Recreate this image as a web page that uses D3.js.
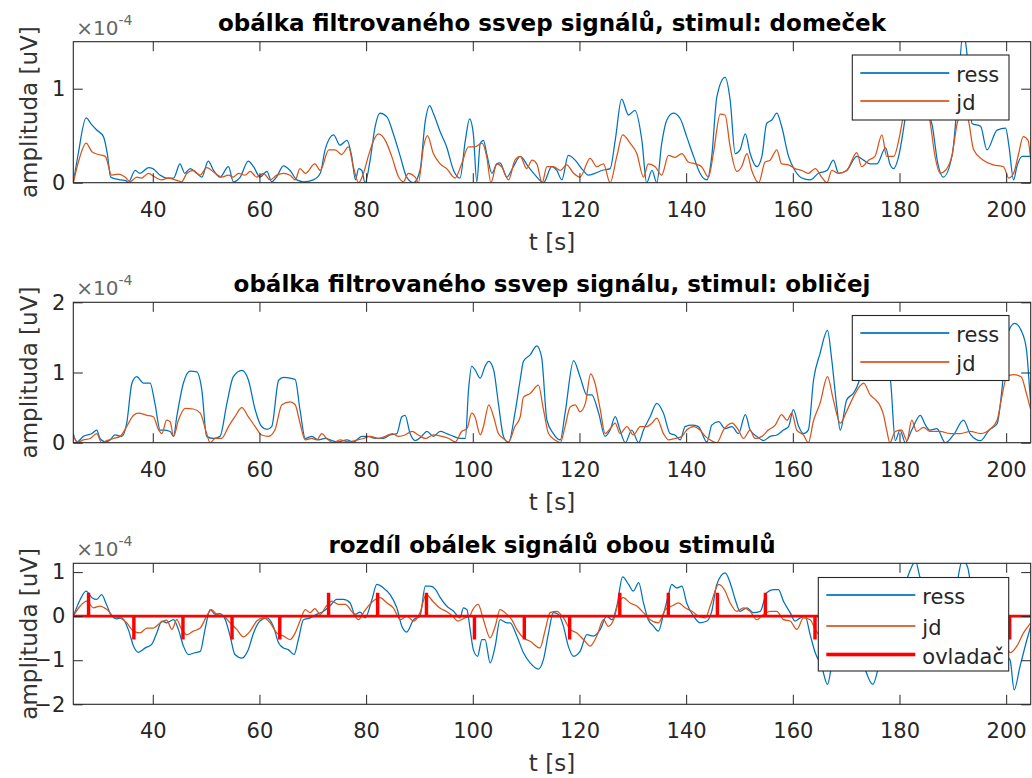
<!DOCTYPE html>
<html>
<head>
<meta charset="utf-8">
<script src="https://cdn.jsdelivr.net/npm/d3@7"></script>
<style>
  html, body { margin: 0; padding: 0; background: #fff; }
  svg { display: block; }
  text { font-family: "DejaVu Sans", sans-serif; fill: #262626; }
</style>
</head>
<body>
<svg id="chart" width="1032" height="778"></svg>
<script>
// ---- data: envelope of the filtered SSVEP signal, values in 1e-4 uV ----
const xTicks = [40, 60, 80, 100, 120, 140, 160, 180, 200];
const xDomain = [25.1, 204.6];

// stimulus "domeček"
const domRess = [[25.1,0],[26,0.3],[27.5,0.69],[28.5,0.62],[29.5,0.56],[30.75,0.49],[31.5,0.3],[32.1,0.06],[33,0.04],[34,0.03],[35,0.02],[35.4,0],[36.7,0.13],[37.6,0.1],[39.2,0.16],[40,0.15],[41.4,0.08],[42.6,0.05],[43.9,0.05],[45.1,0.2],[46,0.1],[47,0.15],[48.25,0.1],[49.2,0.06],[50.4,0.23],[51.4,0.13],[52.6,0.06],[54.2,0.17],[55.1,0.01],[56.4,0.06],[57.9,0.23],[58.9,0.17],[60.1,0.06],[61.4,0.12],[62.3,0.01],[63.2,0.06],[64.5,0.18],[65.75,0.13],[67,0.03],[68.25,0.01],[70.1,0.03],[71.4,0.1],[72.3,0.35],[73.9,0.51],[75.1,0.4],[76.4,0.45],[77.3,0.28],[78,0.03],[78.6,0.15],[79.2,0.13],[79.8,0],[80.75,0.24],[81.7,0.6],[82.6,0.74],[83.9,0.7],[85.1,0.52],[86.4,0.28],[87.6,0.06],[88.9,0],[90.1,0.13],[91.1,0.66],[91.9,0.82],[92.6,0.74],[93.9,0.54],[95.1,0.38],[96.4,0.13],[97.6,0.05],[98.6,0.45],[99.4,0.68],[100.1,0.52],[100.75,0.01],[101.4,0.42],[102,0.45],[102.6,0.31],[103.6,0.1],[104.5,0.2],[105.1,0.21],[106.4,0.06],[107.6,0.17],[108.9,0.28],[110.4,0.17],[111.7,0.08],[113.25,0],[114.8,0.17],[115.75,0.13],[116.7,0.03],[117.9,0.29],[119.2,0.24],[120.4,0.15],[121.7,0.08],[122.9,0.1],[124.2,0.13],[125.75,0.15],[126.7,0.45],[127.9,0.89],[129.2,0.72],[130.4,0.77],[131.7,0.45],[132.6,0],[133.6,0.13],[134.5,0],[135.4,0.41],[136.4,0.67],[137.6,0.74],[138.9,0.68],[140.1,0.49],[141.4,0.28],[142.6,0.1],[143.9,0.03],[144.8,0.28],[145.75,0.91],[147.3,1.12],[148.25,0.88],[149.2,0.31],[150.1,0.35],[151.1,0.52],[152,0.31],[153.25,0.17],[154.2,0.28],[155.1,0.63],[156.1,0.67],[157,0.74],[157.9,0.6],[159.2,0.28],[160.4,0.13],[161.7,0.05],[163.25,0.03],[164.8,0.1],[166.4,0.13],[167.6,0.24],[168.6,0.1],[170.1,0.13],[172,0.28],[173.25,0.24],[174.5,0.2],[175.75,0.2],[177.4,0.37],[178.2,0.2],[178.9,0.15],[179.8,0.27],[181.1,0.7],[182.2,1.15],[183,1.28],[184.2,1.1],[185.2,0.75],[186.1,0.62],[187.2,0.2],[188.2,0.06],[189.9,0.3],[190.9,0.9],[191.9,1.6],[192.6,1.4],[193.6,0.63],[195.2,0.6],[196.4,0.35],[198.3,0.56],[199.9,0.58],[200.5,0.4],[201.4,0.03],[202,0.17],[203,0.28],[204.6,0.28]];
const domJd = [[25.1,0],[26.2,0.25],[27.5,0.42],[28.6,0.33],[29.8,0.3],[31.1,0.28],[32.3,0.08],[33.6,0.09],[34.8,0.06],[35.75,0.01],[37,0.06],[37.9,0.05],[39.2,0.1],[40.4,0.06],[41.7,0.03],[42.9,0.05],[44.2,0.03],[45.4,0.01],[46.4,0.1],[47.6,0.13],[48.9,0.08],[50.1,0.16],[51.7,0.1],[52.9,0.06],[54.2,0.08],[55.1,0.06],[56.1,0.1],[57.3,0.08],[58.25,0.12],[59.5,0.06],[60.75,0.1],[62,0.03],[63.25,0.08],[64.5,0.1],[65.75,0.08],[66.7,0.03],[67.6,0.15],[68.6,0.1],[70.4,0.2],[71.4,0.13],[73,0.35],[74.2,0.35],[75.4,0.3],[76.7,0.38],[77.6,0.17],[78.6,0],[79.5,0.1],[80.4,0.28],[81.4,0.45],[82.3,0.52],[83.6,0.45],[84.8,0.28],[86.1,0.06],[87,0.01],[87.9,0.1],[89.2,0.06],[89.8,0],[90.75,0.38],[91.5,0.5],[92.6,0.31],[93.9,0.2],[95.1,0.15],[96.7,0.05],[97.9,0.2],[99.2,0.38],[100.4,0.38],[101.7,0.42],[102.6,0.28],[103.4,0],[104.5,0.2],[105.4,0.17],[106.7,0.03],[107.9,0.24],[108.9,0.28],[110.1,0.15],[111.1,0.24],[112,0.2],[113,0],[113.9,0.17],[115.1,0.17],[116.4,0.13],[117.6,0.19],[118.9,0.1],[120.1,0.06],[122,0.26],[123.25,0.17],[124.5,0.2],[125.75,0],[127,0.28],[128.1,0.51],[129.5,0.42],[130.75,0.31],[132,0.06],[132.9,0.2],[134.2,0.17],[135.4,0.08],[136.7,0.29],[137.9,0.27],[139.2,0.31],[140.4,0.22],[141.7,0.2],[142.9,0.17],[144.2,0.06],[145.1,0.31],[146.4,0.73],[147.3,0.72],[148.25,0.38],[149.5,0.12],[150.4,0.17],[151.4,0.31],[152.3,0.13],[153.6,0],[154.8,0.22],[155.75,0.24],[157,0.35],[157.9,0.2],[159.2,0.19],[160.4,0.15],[161.7,0.13],[162.9,0.1],[164.2,0.15],[165.4,0.06],[166.4,0],[167.3,0.13],[168.6,0.1],[170.1,0.13],[172,0.32],[172.9,0.17],[174.2,0.24],[175.4,0.28],[176.7,0.51],[177.6,0.28],[178.9,0.28],[180.1,0.52],[180.6,0.67],[181.6,0.85],[183,0.95],[184.6,0.85],[185.7,0.66],[186.6,0.3],[187.6,0.1],[188.6,0.13],[189.8,0.28],[191,0.67],[192.3,0.75],[192.9,0.67],[193.9,0.35],[195.7,0.24],[197.6,0.19],[199.5,0.17],[200.5,0.05],[201.4,0.1],[202.3,0.3],[203.2,0.49],[204.1,0.45],[204.6,0.24]];

// stimulus "obličej"
const oblRess = [[25.1,0.13],[25.75,0.01],[27,0.09],[28.6,0.13],[29.5,0.18],[30.1,0.06],[31.1,0.01],[32,0.04],[32.9,0.11],[34.2,0.09],[35.1,0.27],[36.1,0.85],[37,0.94],[38.25,0.85],[39.5,0.85],[40.4,0.56],[41.4,0.18],[42,0.18],[43.25,0.16],[43.9,0.09],[44.5,0.37],[45.75,0.85],[47,1.02],[48.25,1.01],[49.2,0.75],[50.1,0.09],[51.4,0.06],[52.6,0.09],[53.9,0.56],[55.1,0.94],[56.7,1.03],[57.9,0.9],[59.2,0.47],[60.4,0.23],[61.4,0.19],[62.3,0.23],[63.6,0.89],[64.5,0.93],[65.75,0.92],[66.7,0.9],[67.6,0.47],[68.6,0.06],[69.8,0.09],[71.1,0.04],[72.3,0.06],[73.6,0.03],[74.8,0.01],[76.4,0.04],[77.6,0.01],[79.2,0.09],[80.4,0.09],[81.7,0.06],[83.25,0.06],[84.5,0.11],[85.75,0.13],[86.7,0.37],[87.3,0.39],[88.25,0.13],[89.2,0.03],[90.4,0.09],[91.4,0.16],[92.6,0.09],[93.9,0.16],[95.1,0.13],[96.4,0.09],[97.6,0.06],[98.6,0.06],[99.2,0.75],[99.8,1.09],[100.4,1.04],[101.4,0.92],[102.3,1.09],[103,1.16],[103.9,1.04],[104.8,0.56],[105.75,0.09],[106.7,0],[107.9,0.42],[108.9,0.9],[109.5,1.16],[110.75,1.25],[112,1.38],[112.9,1.22],[113.9,0.32],[115.1,0.13],[116.4,0.04],[117.3,0.42],[118.9,1.17],[120.1,0.94],[121.4,0.68],[122.3,0.68],[123.6,0.42],[124.8,0.09],[125.75,0.18],[126.7,0.37],[127.6,0.18],[128.6,0],[129.8,0.18],[131.1,0],[132,0.18],[133.25,0.37],[134.5,0.56],[135.75,0.42],[137,0.13],[137.9,0.11],[138.9,0.04],[139.8,0.23],[141.1,0.25],[142.3,0.23],[143.9,0.01],[144.8,0.25],[146.1,0.3],[147.3,0.2],[148.6,0.23],[149.8,0.13],[151.1,0.4],[152,0.18],[153.25,0.09],[154.5,0.03],[155.75,0.09],[157,0.11],[158.25,0.18],[159.2,0.23],[160.1,0.47],[161.1,0.23],[162,0.13],[162.9,0.18],[163.9,0.9],[165.1,1.27],[166.5,1.6],[167.3,1.18],[168.25,0.51],[168.9,0.18],[170.1,0.61],[171.4,0.71],[172.3,0.85],[173.5,1.3],[174.8,1.65],[175.7,1.5],[176.7,1.25],[177.6,1.05],[178.3,0.89],[179.2,0.03],[180.1,0.18],[181.1,0],[182.3,0.18],[183.9,0.39],[184.8,0.26],[185.7,0.18],[187,0.2],[188.6,0],[190.2,0.12],[192,0.32],[193.3,0.12],[195.2,0.03],[196.8,0.18],[198.3,0.27],[199.2,0.75],[200.1,1.51],[201.6,1.7],[202.8,1.6],[203.8,1.33],[204.4,0.76],[204.6,0.55]];
const oblJd = [[25.1,0.09],[26,0.01],[27,0.04],[28.25,0.06],[29.5,0.13],[30.4,0],[31.4,0.03],[32.6,0.06],[33.9,0.09],[35.1,0.23],[36.4,0.39],[37.3,0.42],[38.9,0.39],[40.1,0.37],[41.1,0.18],[41.7,0.13],[42.6,0.32],[43.25,0.3],[43.9,0.09],[44.8,0.32],[46.1,0.49],[47.6,0.48],[48.9,0.42],[50.1,0.13],[50.75,0],[51.7,0.06],[52.9,0.06],[54.2,0.23],[55.4,0.37],[56.7,0.5],[57.9,0.37],[59.2,0.23],[60.4,0.11],[61.7,0.09],[62.9,0.18],[64.2,0.54],[65.75,0.58],[66.7,0.54],[67.6,0.28],[68.6,0.04],[69.8,0.06],[70.75,0.04],[71.7,0.13],[72.6,0.06],[73.9,0],[75.1,0.04],[76.7,0.01],[77.9,0.03],[79.5,0.06],[80.75,0.09],[82.3,0.06],[83.6,0.09],[84.9,0.13],[86.1,0.09],[87.3,0.11],[88.6,0.16],[89.8,0.11],[91.1,0.06],[92.6,0.11],[94.2,0.09],[95.5,0.06],[96.7,0.01],[97.9,0.16],[98.9,0.2],[99.8,0.42],[100.4,0.37],[101.4,0.11],[102,0.23],[103,0.54],[103.9,0.37],[104.8,0.13],[105.75,0.06],[106.7,0.01],[107.9,0.23],[108.9,0.37],[109.5,0.65],[110.75,0.7],[112.3,0.82],[113.25,0.47],[114.2,0.13],[115.4,0.04],[116.4,0],[117.3,0.23],[118.25,0.51],[119.2,0.54],[120.1,0.44],[121.1,0.56],[122.1,0.98],[122.9,0.85],[123.9,0.47],[124.8,0.13],[125.75,0.2],[126.7,0.28],[127.6,0.13],[128.9,0.23],[130.1,0.11],[131.4,0.23],[132.6,0.23],[133.6,0.28],[134.5,0.35],[135.75,0.13],[136.7,0.04],[137.9,0.06],[139.2,0.09],[140.1,0.18],[141.4,0.23],[142.6,0.18],[143.6,0.09],[144.5,0.04],[145.75,0],[147,0.18],[148.6,0.28],[149.8,0.18],[150.75,0.06],[152,0.18],[152.9,0.06],[154.2,0.09],[155.4,0.18],[156.7,0.25],[157.9,0.4],[158.9,0.32],[159.8,0.42],[160.75,0.18],[162,0.11],[162.9,0],[163.9,0.32],[165.1,0.56],[166.5,0.94],[167.6,0.61],[168.9,0.28],[170.1,0.45],[171.4,0.66],[172.5,0.8],[173.3,0.85],[174.5,0.68],[175.4,0.62],[176.4,0.52],[177,0.4],[177.6,0.18],[178.2,0],[179.2,0.16],[180.4,0.18],[181.4,0.03],[182.3,0.32],[183.2,0.16],[184.5,0.22],[185.7,0.16],[187.6,0.16],[189.5,0.13],[191.4,0.13],[193.3,0.16],[195.2,0.13],[197.1,0.2],[198.3,0.32],[199.2,0.66],[200.1,0.94],[201.4,0.97],[202.8,0.94],[203.8,0.7],[204.6,0.47]];

// difference of the envelopes (domeček − obličej)
const diffRess = [[25.1,0],[26.4,0.38],[27.5,0.57],[28.6,0.42],[29.5,0.38],[30.4,0.49],[31.3,0.27],[32.3,0],[33.25,-0.06],[34.2,-0.04],[35.4,-0.3],[36.4,-0.68],[37.3,-0.82],[38.6,-0.72],[39.8,-0.64],[40.75,-0.38],[41.7,-0.11],[42.6,-0.15],[43.9,-0.08],[44.8,-0.3],[45.75,-0.68],[46.7,-0.87],[47.9,-0.83],[48.9,-0.8],[49.8,-0.3],[50.75,0.15],[51.7,0.04],[52.6,0.06],[53.6,-0.08],[54.5,-0.45],[55.4,-0.87],[56.7,-0.95],[57.9,-0.76],[58.9,-0.38],[60.1,-0.11],[61.4,-0.04],[62.6,-0.23],[63.6,-0.61],[64.5,-0.72],[65.4,-0.76],[66.5,-0.87],[67.3,-0.53],[68.25,-0.08],[69.5,-0.04],[70.75,0.04],[72,0.11],[73.25,0.24],[74.5,0.38],[75.75,0.38],[77,0.3],[77.9,0.04],[78.9,0.09],[79.8,-0.04],[81.1,0.38],[82,0.72],[83.25,0.64],[84.5,0.49],[85.75,0.19],[86.7,-0.23],[87.6,-0.36],[88.9,-0.08],[90.1,0],[91.1,0.68],[92,0.68],[93,0.61],[93.9,0.42],[95.1,0.23],[96.4,0.11],[97.6,-0.04],[98.25,0.19],[98.9,0.15],[99.5,-0.3],[100.1,-0.76],[100.9,-0.91],[101.7,-0.53],[102.3,-0.53],[103.25,-1.06],[104.2,-0.68],[105.1,-0.08],[106.4,-0.15],[107,-0.15],[108.25,-0.45],[109.5,-0.83],[110.75,-1.06],[112.3,-1.2],[113.25,-0.98],[114.2,-0.38],[115.1,0.08],[116.1,0.04],[117,-0.23],[117.9,-0.68],[118.9,-0.91],[120.1,-0.8],[121.4,-0.42],[122.6,-0.45],[123.9,-0.3],[125.1,0],[126.1,-0.08],[127,0.23],[128.1,0.89],[129.2,0.72],[130.1,0.57],[131.1,0.76],[132,0.3],[132.9,-0.08],[133.9,-0.23],[134.8,-0.34],[135.75,0.04],[136.7,0.49],[137.3,0.72],[138.25,0.64],[139.2,0.68],[140.1,0.3],[141.4,0],[142.6,-0.15],[143.9,-0.11],[144.8,0.11],[145.75,0.72],[147.3,0.98],[148.25,0.76],[149.2,0.38],[150.1,0.11],[151.4,0.19],[152.6,0.08],[153.9,0.11],[155.1,0.53],[156.4,0.6],[157.3,0.6],[158.25,0.34],[159.5,0.08],[160.4,-0.11],[161.4,-0.04],[162.3,0],[163.25,-0.42],[164.2,-0.83],[165.4,-1.14],[166.5,-1.55],[167.3,-1.1],[168.4,-0.45],[169.5,-0.3],[170.5,-0.5],[171.8,-0.6],[173.25,-1.1],[175,-1.55],[176.4,-1.0],[177.5,-0.7],[178.5,-0.3],[179.5,0.15],[181,0.7],[182.2,1.1],[183,1.25],[183.8,0.9],[185,0.5],[186.4,0.4],[188.25,0.05],[189.5,0.2],[190.7,0.7],[191.8,1.28],[192.8,1.1],[193.8,0.5],[195,0.55],[196.5,0.2],[198,0.3],[199.3,-0.2],[200.1,-0.9],[200.75,-1.0],[201.5,-1.67],[202.6,-1.14],[203.9,-0.53],[204.6,-0.23]];
const diffJd = [[25.1,0],[26.4,0.23],[27.6,0.34],[28.9,0.19],[30.1,0.23],[31.4,0.15],[32.6,0],[33.9,-0.04],[35.1,-0.15],[36.4,-0.34],[37.6,-0.38],[38.9,-0.27],[40.1,-0.27],[41.4,-0.15],[42.6,-0.09],[43.6,-0.3],[44.5,-0.08],[45.4,-0.3],[46.4,-0.42],[47.6,-0.34],[48.9,-0.27],[50.1,0],[51,0.15],[52,0.04],[53.25,0],[54.5,-0.15],[55.75,-0.3],[57,-0.47],[58.25,-0.34],[59.5,-0.11],[60.75,-0.04],[62,-0.15],[63.25,-0.38],[64.5,-0.45],[65.75,-0.53],[66.7,-0.38],[67.6,-0.11],[68.6,0.15],[69.5,0.08],[70.4,0.17],[71.4,0.04],[72.3,0.19],[73.6,0.34],[74.8,0.27],[76.1,0.27],[77.3,0.11],[78.6,-0.08],[79.5,0.08],[80.4,0.23],[81.7,0.38],[82.6,0.42],[83.9,0.3],[85.1,0.19],[86.4,-0.08],[87.6,0],[88.9,-0.11],[90.1,0.08],[91.25,0.49],[92.5,0.34],[93.75,0.19],[95,0.11],[96.25,0],[97.2,-0.11],[98.5,-0.04],[99.4,0],[100,0.15],[101,0.27],[102,-0.08],[103.25,-0.49],[104.2,-0.23],[105.1,0.15],[106.4,0.04],[107.3,-0.08],[108.25,-0.3],[109.5,-0.49],[110.75,-0.57],[112.6,-0.72],[113.6,-0.3],[114.5,0.08],[115.75,0.11],[117,-0.04],[118.25,-0.3],[119.5,-0.38],[120.75,-0.53],[122,-0.68],[123.25,-0.45],[124.5,-0.08],[125.4,-0.23],[126.4,-0.08],[127.3,0.3],[128.25,0.42],[129.5,0.3],[130.75,0.23],[132,0.08],[133.25,-0.08],[134.8,-0.15],[136.1,0.15],[137.3,0.23],[138.6,0.3],[139.8,0.19],[141.1,0.11],[142.3,0],[143.6,-0.04],[144.5,0.23],[146.1,0.72],[147.3,0.57],[148.25,0.3],[149.5,0.11],[150.75,0.19],[152,0.11],[153.25,-0.08],[154.5,0.04],[155.75,0.11],[157,0.11],[158.25,-0.08],[159.5,-0.11],[160.75,-0.3],[162,-0.04],[163.25,-0.08],[164.2,-0.3],[165.5,-0.55],[166.5,-0.85],[168,-0.2],[170,-0.3],[172,-0.5],[173.25,-0.5],[175,-0.35],[176.7,0],[178,0.25],[180,0.35],[182,0.5],[184,0.65],[186,0.4],[188,0],[190,0.15],[192.5,0.6],[194,0.2],[196,0.1],[198,-0.1],[199.8,-0.6],[200.75,-0.83],[202,-0.68],[203.25,-0.38],[204.6,-0.15]];

// controller (ovladač) events: time and signed marker level
const ovladacT = [27.9, 36.4, 45.6, 54.8, 63.75, 72.9, 82.1, 91.25, 100.25, 109.6, 118.1, 127.5, 136.6, 145.8, 154.8, 164.1, 173.2, 182.3, 191.4, 200.6];
const ovladacV = [0.5, -0.5, -0.5, -0.5, -0.5, 0.5, 0.5, 0.5, -0.5, -0.5, -0.5, 0.5, 0.5, 0.5, 0.5, -0.5, -0.5, 0.5, 0.5, -0.5];

const titles = [
  "obálka filtrovaného ssvep signálů, stimul: domeček",
  "obálka filtrovaného ssvep signálu, stimul: obličej",
  "rozdíl obálek signálů obou stimulů"
];
const yDomains = [[0, 1.5], [0, 2], [-2, 1.2]];
const yTicks = [[0, 1], [0, 1, 2], [-2, -1, 0, 1]];
const seriesNames = ["ress", "jd", "ovladač"];

// ---- layout ----
const COL_RESS = "#0072BD", COL_JD = "#D95319", COL_OVL = "#FF0000", INK = "#262626";
const left = 73.3, right = 1030.7;
const panels = [
  { top: 41.7, bottom: 182.7, lines: [domRess, domJd], legend: { x: 852.3, y: 55, w: 156.7, rows: [73, 101] } },
  { top: 302.3, bottom: 442.7, lines: [oblRess, oblJd], legend: { x: 852.3, y: 315.5, w: 156.7, rows: [333, 362] } },
  { top: 563.3, bottom: 704.3, lines: [diffRess, diffJd], legend: { x: 818.3, y: 577.5, w: 190.4, rows: [595, 626, 654.5] } }
];
const TICK = 9.5;

const svg = d3.select("#chart");
const x = d3.scaleLinear().domain(xDomain).range([left, right]);

// controller trace built from the event list
const ovlPoints = [[xDomain[0], 0]];
ovladacT.forEach((t, i) => { ovlPoints.push([t, 0], [t, ovladacV[i]], [t + 0.12, ovladacV[i]], [t + 0.12, 0]); });
ovlPoints.push([xDomain[1], 0]);

panels.forEach((p, i) => {
  const y = d3.scaleLinear().domain(yDomains[i]).range([p.bottom, p.top]);
  const g = svg.append("g");

  const clipId = "clip" + i;
  svg.append("clipPath").attr("id", clipId)
    .append("rect").attr("x", left).attr("y", p.top).attr("width", right - left).attr("height", p.bottom - p.top);

  const smooth = d3.line().curve(d3.curveMonotoneX).x(d => x(d[0])).y(d => y(d[1]));
  const sharp = d3.line().x(d => x(d[0])).y(d => y(d[1]));
  const plot = g.append("g").attr("clip-path", `url(#${clipId})`);
  plot.append("path").datum(p.lines[0]).attr("d", smooth)
    .attr("fill", "none").attr("stroke", COL_RESS).attr("stroke-width", 1.25).attr("stroke-linejoin", "round");
  plot.append("path").datum(p.lines[1]).attr("d", smooth)
    .attr("fill", "none").attr("stroke", COL_JD).attr("stroke-width", 1.25).attr("stroke-linejoin", "round");
  if (i === 2) {
    plot.append("path").datum(ovlPoints).attr("d", sharp)
      .attr("fill", "none").attr("stroke", COL_OVL).attr("stroke-width", 2.8).attr("stroke-linejoin", "miter");
  }

  // axes with inward ticks on all four sides
  const axB = g.append("g").attr("transform", `translate(0,${p.bottom})`)
    .call(d3.axisBottom(x).tickValues(xTicks).tickSize(-TICK).tickPadding(19).tickFormat(d3.format("d")));
  const axT = g.append("g").attr("transform", `translate(0,${p.top})`)
    .call(d3.axisTop(x).tickValues(xTicks).tickSize(-TICK).tickFormat(""));
  const axL = g.append("g").attr("transform", `translate(${left},0)`)
    .call(d3.axisLeft(y).tickValues(yTicks[i]).tickSize(-TICK).tickPadding(8).tickFormat(d3.format("d")));
  const axR = g.append("g").attr("transform", `translate(${right},0)`)
    .call(d3.axisRight(y).tickValues(yTicks[i]).tickSize(-TICK).tickFormat(""));
  [axB, axT, axL, axR].forEach(a => {
    a.select(".domain").remove();
    a.selectAll(".tick line").attr("stroke", INK).attr("stroke-width", 1);
    a.selectAll("text").attr("fill", "#333").style("font-family", "DejaVu Sans").style("font-size", "21px");
  });

  g.append("rect").attr("x", left).attr("y", p.top).attr("width", right - left).attr("height", p.bottom - p.top)
    .attr("fill", "none").attr("stroke", INK).attr("stroke-width", 1.1);

  // exponent marker
  const ex = g.append("text").attr("x", left + 3).attr("y", p.top - 7).style("font-size", "20px").style("fill", "#666");
  ex.append("tspan").text("×10");
  ex.append("tspan").attr("dy", -10).style("font-size", "14px").text("-4");

  // title and labels
  g.append("text").attr("x", (left + right) / 2).attr("y", p.top - 10.5).attr("text-anchor", "middle")
    .style("font-size", "23px").style("font-weight", "bold").style("fill", "#000").text(titles[i]);
  g.append("text").attr("x", (left + right) / 2).attr("y", p.bottom + 67).attr("text-anchor", "middle")
    .style("font-size", "23px").style("fill", "#333").text("t [s]");
  g.append("text").attr("transform", `translate(37,${(p.top + p.bottom) / 2}) rotate(-90)`).attr("text-anchor", "middle")
    .style("font-size", "23px").style("fill", "#333").text("amplituda [uV]");

  // legend
  const L = p.legend;
  const h = L.rows.length * 28.5 + 8;
  const lg = g.append("g");
  lg.append("rect").attr("x", L.x).attr("y", L.y).attr("width", L.w).attr("height", h)
    .attr("fill", "#ffffff").attr("stroke", INK).attr("stroke-width", 1.1);
  const cols = [COL_RESS, COL_JD, COL_OVL];
  const widths = [1.7, 1.7, 3.6];
  L.rows.forEach((ry, k) => {
    lg.append("rect").attr("x", L.x + 8).attr("width", 89)
      .attr("y", ry - widths[k] / 2).attr("height", widths[k])
      .style("fill", cols[k]).style("stroke", "none");
    lg.append("text").attr("x", L.x + 104).attr("y", ry + 9).style("font-size", "21px").text(seriesNames[k]);
  });
});
</script>
</body>
</html>
